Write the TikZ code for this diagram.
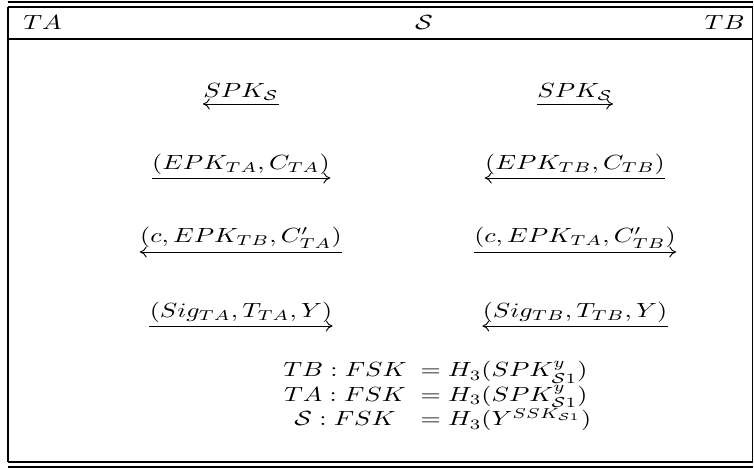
\documentclass[tikz,border=0pt]{standalone}
\usepackage{amsmath,amssymb}
\usepackage{graphicx}
\usepackage{tikz}
\usetikzlibrary{arrows.meta}
\newcommand{\cS}{\mathcal{S}}
\newcommand{\wide}[1]{\scalebox{1.27}[1]{$#1$}}

\begin{document}
\begin{tikzpicture}[
  x=0.4878pt, y=-0.4878pt,
  >={Computer Modern Rightarrow[scale length=1.3]},
  rule/.style={line width=0.8pt},
  hdr/.style={inner sep=0pt},
  msg/.style={anchor=south,inner xsep=0pt,inner ysep=1.6pt},
  xarr/.style={line width=0.45pt},
  eqn/.style={inner sep=0pt}
]
\useasboundingbox (0,0) rectangle (754,468);

% ---- frame of the table ----
\draw[rule] (7.5,1.7) -- (753,1.7);
\draw[rule] (7.5,6.7) -- (753,6.7);
\draw[rule] (8,6.7) -- (8,462) (752.5,6.7) -- (752.5,462);
\draw[rule] (8,39.3) -- (752.5,39.3);
\draw[rule] (7.5,462) -- (753,462);
\draw[rule] (7.5,467) -- (753,467);

% ---- header: parties ----
\node[hdr,anchor=base west] (ta) at (23,30) {\wide{TA}};
\node[hdr,anchor=base] (srv) at (424,30) {\wide{\cS}};
\node[hdr,anchor=base east] (tb) at (745,30) {\wide{TB}};

% ---- messages TA <-> S ----
\node[msg] (l1) at (241,104) {\wide{SPK_{\cS}}};
\node[msg] (l2) at (241,178) {\wide{(EPK_{TA}, C_{TA})}};
\node[msg] (l3) at (241,252) {\wide{(c, EPK_{TB}, C'_{TA})}};
\node[msg] (l4) at (241,326) {\wide{(Sig_{TA}, T_{TA}, Y)}};
\draw[xarr,<-] (l1.south west) -- (l1.south east);
\draw[xarr,->] (l2.south west) -- (l2.south east);
\draw[xarr,<-] (l3.south west) -- (l3.south east);
\draw[xarr,->] (l4.south west) -- (l4.south east);

% ---- messages S <-> TB ----
\node[msg] (r1) at (575,104) {\wide{SPK_{\cS}}};
\node[msg] (r2) at (575,178) {\wide{(EPK_{TB}, C_{TB})}};
\node[msg] (r3) at (575,252) {\wide{(c, EPK_{TA}, C'_{TB})}};
\node[msg] (r4) at (575,326) {\wide{(Sig_{TB}, T_{TB}, Y)}};
\draw[xarr,->] (r1.south west) -- (r1.south east);
\draw[xarr,<-] (r2.south west) -- (r2.south east);
\draw[xarr,->] (r3.south west) -- (r3.south east);
\draw[xarr,<-] (r4.south west) -- (r4.south east);

% ---- final session keys ----
\node[eqn,anchor=base] (k1l) at (345,377) {\wide{TB : FSK}};
\node[eqn,anchor=base] (k2l) at (345,401.5) {\wide{TA : FSK}};
\node[eqn,anchor=base] (k3l) at (345,426) {\wide{\cS : FSK}};
\node[eqn,anchor=base west] (k1r) at (413,377) {\wide{{}= H_3(SPK_{\cS 1}^{y})}};
\node[eqn,anchor=base west] (k2r) at (413,401.5) {\wide{{}= H_3(SPK_{\cS 1}^{y})}};
\node[eqn,anchor=base west] (k3r) at (413,426) {\wide{{}= H_3(Y^{SSK_{\cS 1}})}};

\end{tikzpicture}
\end{document}
